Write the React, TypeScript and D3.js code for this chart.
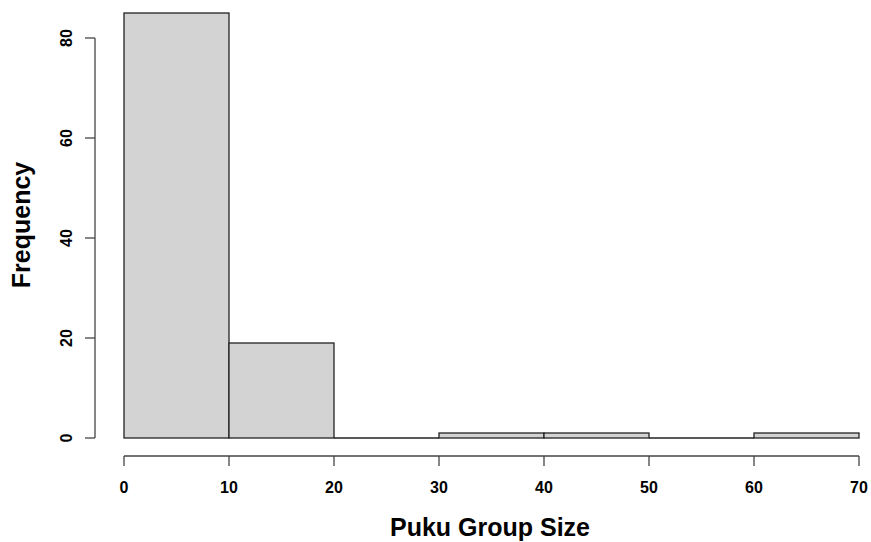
import React from "react";
import * as d3 from "d3";

const binEdges = [0, 10, 20, 30, 40, 50, 60, 70];
const counts = [85, 19, 0, 1, 1, 0, 1];
const xTicks = [0, 10, 20, 30, 40, 50, 60, 70];
const yTicks = [0, 20, 40, 60, 80];
const xLabel = "Puku Group Size";
const yLabel = "Frequency";

const W = 871;
const H = 542;

export default function App() {
  const x = d3.scaleLinear().domain([0, 70]).range([124, 859]);
  const y = d3.scaleLinear().domain([0, 80]).range([438, 38]);
  const bins = counts.map((c, i) => ({ x0: binEdges[i], x1: binEdges[i + 1], c }));
  const font = "'Liberation Sans', Arial, sans-serif";
  const axisColor = "#444";
  const xAxisY = 456;
  const yAxisX = 95;
  return (
    <svg width={W} height={H} style={{ position: "absolute", left: 0, top: 0, background: "#fff" }}>
      <rect width={W} height={H} fill="#fff" />
      {bins.map((b, i) =>
        b.c > 0 ? (
          <rect
            key={i}
            x={x(b.x0)}
            y={y(b.c)}
            width={x(b.x1) - x(b.x0)}
            height={y(0) - y(b.c)}
            fill="#d3d3d3"
            stroke="#222"
            strokeWidth={1.3}
          />
        ) : (
          <line key={i} x1={x(b.x0)} x2={x(b.x1)} y1={y(0)} y2={y(0)} stroke="#222" strokeWidth={1.3} />
        )
      )}
      {/* x axis */}
      <line x1={x(xTicks[0])} x2={x(xTicks[xTicks.length - 1])} y1={xAxisY} y2={xAxisY} stroke={axisColor} strokeWidth={1.3} />
      {xTicks.map((t) => (
        <g key={t}>
          <line x1={x(t)} x2={x(t)} y1={xAxisY} y2={xAxisY + 10} stroke={axisColor} strokeWidth={1.3} />
          <text x={x(t)} y={493} textAnchor="middle" fontFamily={font} fontWeight="bold" fontSize={16} fill="#000">
            {t}
          </text>
        </g>
      ))}
      {/* y axis */}
      <line x1={yAxisX} x2={yAxisX} y1={y(yTicks[0])} y2={y(yTicks[yTicks.length - 1])} stroke={axisColor} strokeWidth={1.3} />
      {yTicks.map((t) => (
        <g key={t}>
          <line x1={yAxisX - 10} x2={yAxisX} y1={y(t)} y2={y(t)} stroke={axisColor} strokeWidth={1.3} />
          <text
            transform={`translate(72,${y(t)}) rotate(-90)`}
            textAnchor="middle"
            fontFamily={font}
            fontWeight="bold"
            fontSize={16}
            fill="#000"
          >
            {t}
          </text>
        </g>
      ))}
      <text x={490} y={536} textAnchor="middle" fontFamily={font} fontWeight="bold" fontSize={25} fill="#000">
        {xLabel}
      </text>
      <text
        transform={`translate(30,225) rotate(-90)`}
        textAnchor="middle"
        fontFamily={font}
        fontWeight="bold"
        fontSize={25}
        fill="#000"
      >
        {yLabel}
      </text>
    </svg>
  );
}
